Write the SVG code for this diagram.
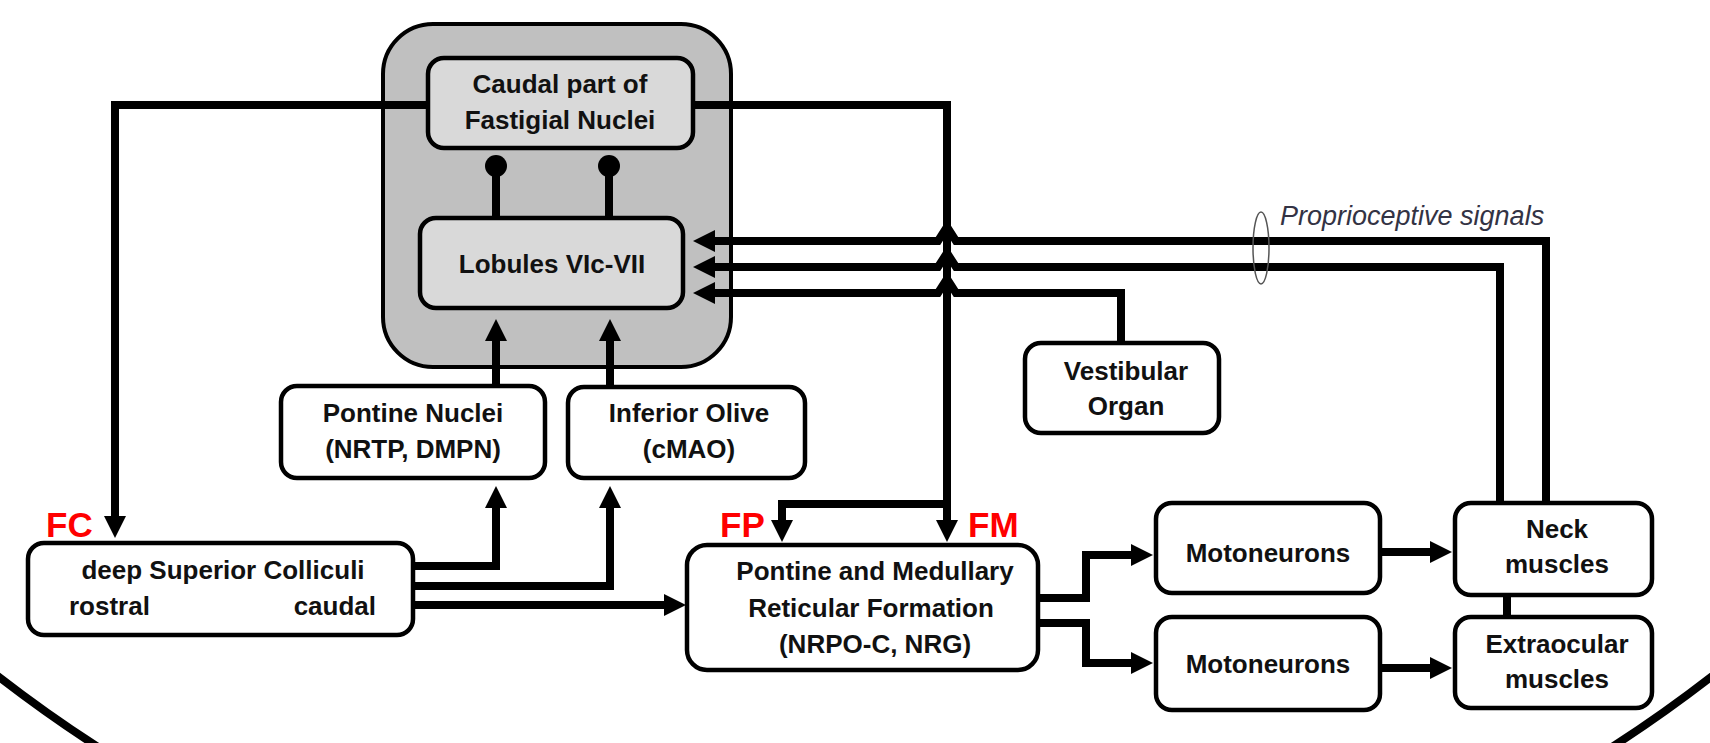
<svg xmlns="http://www.w3.org/2000/svg" width="1710" height="743" viewBox="0 0 1710 743">
<defs>
<style>
.box{fill:#ffffff;stroke:#000;stroke-width:4.5}
.gbox{fill:#d9d9d9;stroke:#000;stroke-width:4.5}
.outer{fill:#c0c0c0;stroke:#000;stroke-width:4}
.t{font-family:"Liberation Sans",Arial,sans-serif;font-weight:bold;font-size:26px;fill:#111;text-anchor:middle}
.lab{font-family:"Liberation Sans",Arial,sans-serif;font-weight:bold;font-size:35px;fill:#ff0000}
.ln{fill:none;stroke:#000;stroke-width:8}
.arr{marker-end:url(#ah)}
</style>
<marker id="ah" markerUnits="userSpaceOnUse" markerWidth="24" markerHeight="24" refX="1" refY="11" orient="auto" overflow="visible">
<path d="M0,0 L22,11 L0,22 Z" fill="#000"/>
</marker>
</defs>
<rect width="1710" height="743" fill="#ffffff"/>

<path d="M-20,662 A1399,1399 0 0 0 1730,662" fill="none" stroke="#000" stroke-width="8"/>

<g id="cerebellum">
<rect class="outer" x="383" y="24" width="348" height="343" rx="50"/>
</g>

<g id="connectors">
<path class="ln arr" d="M428,105 H115 V517"/>
<path class="ln arr" d="M693,105 H947 V521"/>
<path class="ln arr" d="M947,504 H782 V521"/>
<path class="ln arr" d="M1546,503 V241 H956 L947,227 L938,241 H714"/>
<path class="ln arr" d="M1500,503 V267 H956 L947,253 L938,267 H714"/>
<path class="ln arr" d="M1121,343 V293 H956 L947,279 L938,293 H714"/>
<path class="ln" d="M496,218 V168"/>
<path class="ln" d="M609,218 V168"/>
<circle cx="496" cy="166" r="11" fill="#000"/>
<circle cx="609" cy="166" r="11" fill="#000"/>
<path class="ln arr" d="M496,386 V340"/>
<path class="ln arr" d="M610,387 V340"/>
<path class="ln arr" d="M413,566 H496 V507"/>
<path class="ln arr" d="M413,586 H610 V507"/>
<path class="ln arr" d="M413,605 H665"/>
<path class="ln arr" d="M1038,598 H1086 V555 H1132"/>
<path class="ln arr" d="M1038,623 H1086 V663 H1132"/>
<path class="ln arr" d="M1380,552 H1431"/>
<path class="ln arr" d="M1380,668 H1431"/>
<path class="ln" d="M1507,595 V617"/>
</g>

<g id="proprio">
<ellipse cx="1261" cy="248" rx="8" ry="36" fill="none" stroke="#555" stroke-width="1.5"/>
<text x="1280" y="225" font-family="'Liberation Sans',Arial,sans-serif" font-style="italic" font-size="27" fill="#333344">Proprioceptive signals</text>
</g>

<g id="fastigial">
<rect class="gbox" x="428" y="58" width="265" height="90" rx="16"/>
<text class="t" x="560" y="93">Caudal part of</text>
<text class="t" x="560" y="129">Fastigial Nuclei</text>
</g>

<g id="lobules">
<rect class="gbox" x="420" y="218" width="263" height="90" rx="16"/>
<text class="t" x="552" y="273">Lobules VIc-VII</text>
</g>

<g id="pontine-nuclei">
<rect class="box" x="281" y="386" width="264" height="92" rx="16"/>
<text class="t" x="413" y="422">Pontine Nuclei</text>
<text class="t" x="413" y="458">(NRTP, DMPN)</text>
</g>

<g id="inferior-olive">
<rect class="box" x="568" y="387" width="237" height="91" rx="16"/>
<text class="t" x="689" y="422">Inferior Olive</text>
<text class="t" x="689" y="458">(cMAO)</text>
</g>

<g id="vestibular">
<rect class="box" x="1025" y="343" width="194" height="90" rx="16"/>
<text class="t" x="1126" y="380">Vestibular</text>
<text class="t" x="1126" y="415">Organ</text>
</g>

<g id="dsc">
<rect class="box" x="28" y="543" width="385" height="92" rx="16"/>
<text class="t" x="223" y="579">deep Superior Colliculi</text>
<text class="t" x="69" y="615" style="text-anchor:start">rostral</text>
<text class="t" x="376" y="615" style="text-anchor:end">caudal</text>
<text class="lab" x="46" y="537">FC</text>
</g>

<g id="reticular">
<rect class="box" x="687" y="545" width="351" height="125" rx="20"/>
<text class="t" x="875" y="580">Pontine and Medullary</text>
<text class="t" x="871" y="617">Reticular Formation</text>
<text class="t" x="875" y="653">(NRPO-C, NRG)</text>
<text class="lab" x="720" y="537">FP</text>
<text class="lab" x="968" y="537">FM</text>
</g>

<g id="moto1">
<rect class="box" x="1156" y="503" width="224" height="90" rx="16"/>
<text class="t" x="1268" y="562">Motoneurons</text>
</g>

<g id="moto2">
<rect class="box" x="1156" y="617" width="224" height="93" rx="16"/>
<text class="t" x="1268" y="673">Motoneurons</text>
</g>

<g id="neck">
<rect class="box" x="1455" y="503" width="197" height="92" rx="16"/>
<text class="t" x="1557" y="538">Neck</text>
<text class="t" x="1557" y="573">muscles</text>
</g>

<g id="extraocular">
<rect class="box" x="1455" y="617" width="197" height="91" rx="16"/>
<text class="t" x="1557" y="653">Extraocular</text>
<text class="t" x="1557" y="688">muscles</text>
</g>
</svg>
